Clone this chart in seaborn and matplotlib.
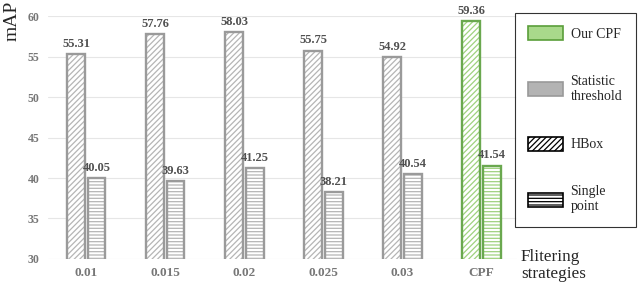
import numpy as np
import pandas as pd
import matplotlib
matplotlib.use("Agg")
import matplotlib.pyplot as plt
import seaborn as sns
from matplotlib.patches import Patch

categories = ['0.01', '0.015', '0.02', '0.025', '0.03', 'CPF']
hbox = [55.31, 57.76, 58.03, 55.75, 54.92, 59.36]
single = [40.05, 39.63, 41.25, 38.21, 40.54, 41.54]
series = ['HBox', 'Single point']
yticks = [30, 35, 40, 45, 50, 55, 60]

sns.set_style("white")
plt.rcParams['font.family'] = ['Liberation Serif', 'DejaVu Serif']
plt.rcParams['hatch.linewidth'] = 0.9

df = pd.DataFrame({
    'cat': categories * 2,
    'val': hbox + single,
    'type': [series[0]] * len(categories) + [series[1]] * len(categories),
})

fig = plt.figure(figsize=(6.4, 2.83), dpi=100)
ax = fig.add_axes([0.075, 0.085, 0.733, 0.858])

sns.barplot(data=df, x='cat', y='val', hue='type', order=categories,
            hue_order=series, width=0.52, gap=0.14, ax=ax, legend=False,
            errorbar=None, saturation=1)

gray_edge = '#9a9a9a'
green_edge = '#6aa84f'
gray_hatch = '#b5b5b5'
green_hatch = '#9fd27f'
hatches = {series[0]: '//////', series[1]: '-----'}

n = len(categories)
for i, bar in enumerate(ax.patches[:2 * n]):
    s = series[i // n]
    c = i % n
    is_cpf = categories[c] == 'CPF'
    bar.set_facecolor('white')
    bar.set_edgecolor(green_hatch if is_cpf else gray_hatch)
    bar.set_hatch(hatches[s])
    bar.set_linewidth(0)
    x, y = bar.get_x(), bar.get_y()
    w, h = bar.get_width(), bar.get_height()
    outline = plt.Rectangle((x, y), w, h, fill=False,
                            edgecolor=green_edge if is_cpf else gray_edge,
                            linewidth=1.7, zorder=bar.get_zorder() + 0.1)
    ax.add_patch(outline)
    vals = hbox if i // n == 0 else single
    ax.text(x + w / 2, y + h + 0.5, f"{vals[c]:.2f}", ha='center', va='bottom',
            fontsize=9, fontweight='bold', color='#505050', clip_on=False)

ax.set_ylim(30, 60)
ax.set_xlim(-0.485, 5.45)
ax.set_yticks(yticks)
ax.yaxis.grid(True, color='#e6e6e6', linewidth=0.8)
ax.set_axisbelow(True)
for sp in ax.spines.values():
    sp.set_visible(False)
ax.set_xlabel('')
ax.set_ylabel('')
ax.tick_params(axis='both', length=0, colors='#777777', pad=6)
ax.tick_params(axis='x', labelsize=9.5)
ax.tick_params(axis='y', labelsize=8.5)
for lab in ax.get_xticklabels() + ax.get_yticklabels():
    lab.set_fontweight('bold')

fig.text(0.019, 0.998, 'mAP', rotation=90, ha='center', va='top', fontsize=14)
fig.text(0.814, 0.005, 'Flitering\nstrategies', ha='left', va='bottom',
         fontsize=12.3, linespacing=1.05)

handles = [
    Patch(facecolor='#a9d98b', edgecolor='#5a9e3a', linewidth=1.2, label='Our CPF'),
    Patch(facecolor='#b3b3b3', edgecolor='#999999', linewidth=1.2, label='Statistic\nthreshold'),
    Patch(facecolor='white', edgecolor='black', hatch='//////', linewidth=1.2, label='HBox'),
    Patch(facecolor='white', edgecolor='black', hatch='-----', linewidth=1.2, label='Single\npoint'),
]
leg = fig.legend(handles=handles, loc='upper left', bbox_to_anchor=(515 / 640, 1 - 13 / 283),
                 frameon=True, fancybox=False, fontsize=10, handlelength=2.5,
                 handleheight=1.15, labelspacing=2.45, borderpad=0.95,
                 handletextpad=0.55, borderaxespad=0)
leg.get_frame().set_edgecolor('black')
leg.get_frame().set_linewidth(0.8)
leg.get_frame().set_boxstyle('square', pad=0)

fig.savefig('out.png', dpi=100)
